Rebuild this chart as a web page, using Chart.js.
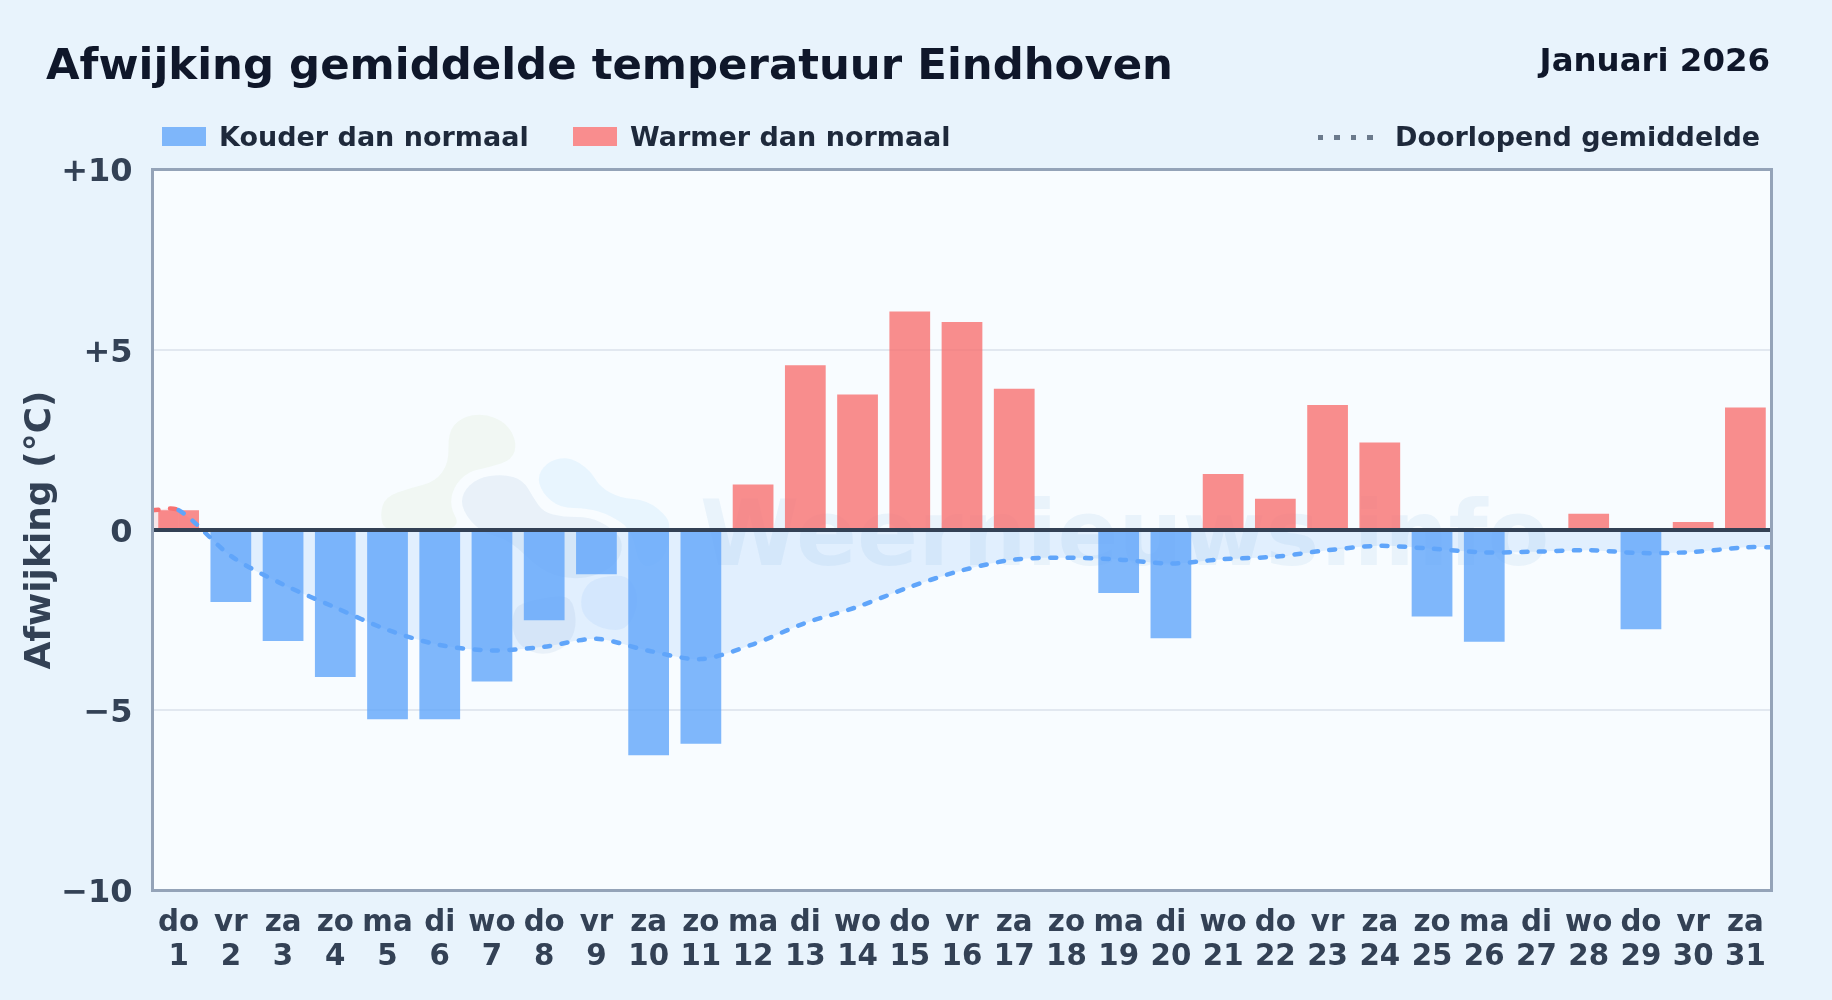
<!DOCTYPE html>
<html lang="nl">
<head>
<meta charset="utf-8">
<title>Afwijking gemiddelde temperatuur Eindhoven</title>
<script src="https://cdn.jsdelivr.net/npm/chart.js@4"></script>
<style>
    html, body { margin: 0; padding: 0; width: 1832px; height: 1000px; overflow: hidden; background: #e8f3fc; }
    body { position: relative; font-family: "DejaVu Sans", sans-serif; font-weight: bold; }
    canvas { position: absolute; left: 0; top: 0; }
    .txt { position: absolute; white-space: nowrap; line-height: 1; }
    #title { left: 46px; top: 43px; font-size: 43.4px; color: #0f172a; }
    #period { right: 62px; top: 44px; font-size: 32.4px; color: #0f172a; }
    .legend { top: 123px; font-size: 27px; color: #1e293b; }
    .swatch { position: absolute; top: 127px; width: 44px; height: 19px; }
    #dots { position: absolute; left: 1318px; top: 134.5px; width: 55px; height: 5px;
        background: repeating-linear-gradient(90deg, #6b7a8c 0, #6b7a8c 5.5px, transparent 5.5px, transparent 16.5px); }
</style>
</head>
<body>
<canvas id="chart" width="1832" height="1000"></canvas>
<div class="txt" id="title">Afwijking gemiddelde temperatuur Eindhoven</div>
<div class="txt" id="period">Januari 2026</div>
<div class="swatch" style="left:162px;background:#7eb6fa"></div>
<div class="txt legend" style="left:219px">Kouder dan normaal</div>
<div class="swatch" style="left:573px;background:#f98d8e"></div>
<div class="txt legend" style="left:630px">Warmer dan normaal</div>
<div id="dots"></div>
<div class="txt legend" style="left:1395px">Doorlopend gemiddelde</div>
<script>
const weekdays = ['do','vr','za','zo','ma','di','wo','do','vr','za','zo','ma','di','wo','do','vr','za','zo','ma','di','wo','do','vr','za','zo','ma','di','wo','do','vr','za'];
const days = [1,2,3,4,5,6,7,8,9,10,11,12,13,14,15,16,17,18,19,20,21,22,23,24,25,26,27,28,29,30,31];
const deviation = [0.55,-2.0,-3.08,-4.08,-5.25,-5.25,-4.2,-2.5,-1.23,-6.25,-5.93,1.26,4.57,3.76,6.06,5.77,3.92,0,-1.75,-3.0,1.55,0.87,3.47,2.43,-2.4,-3.1,0,0.45,-2.75,0.22,3.4];
const runningMean = [0.55,-0.72,-1.51,-2.15,-2.77,-3.19,-3.34,-3.24,-3.02,-3.35,-3.58,-3.17,-2.58,-2.13,-1.58,-1.12,-0.82,-0.77,-0.82,-0.93,-0.81,-0.74,-0.56,-0.44,-0.52,-0.62,-0.6,-0.56,-0.64,-0.61,-0.48];
const yTicks = { '10': '+10', '5': '+5', '0': '0', '-5': '\u22125', '-10': '\u221210' };

const BLUE = 'rgba(96, 165, 250, 0.8)';
const RED = 'rgba(248, 113, 113, 0.8)';

// faint logo behind the bars, outlines in page pixels
const logo = [
    { color: 'rgba(190, 220, 160, 0.13)', pts: [[380,515],[385,497],[410,488],[435,482],[449,463],[448,433],[460,418],[483,413],[507,423],[517,443],[512,460],[490,467],[467,472],[453,488],[450,507],[460,525],[440,532],[385,532]] },
    { color: 'rgba(130, 170, 210, 0.13)', pts: [[462,493],[477,478],[503,474],[523,480],[533,497],[543,512],[563,517],[590,517],[610,527],[623,540],[620,560],[600,575],[570,580],[540,570],[510,540],[480,532],[462,510]] },
    { color: 'rgba(120, 200, 250, 0.12)', pts: [[537,475],[550,460],[570,457],[590,470],[600,487],[620,498],[647,500],[668,517],[670,530],[665,560],[640,570],[632,530],[610,515],[587,508],[560,508],[542,493]] },
    { color: 'rgba(96, 165, 250, 0.1)', pts: [[580,597],[590,580],[613,575],[630,577],[640,600],[628,630],[603,630],[583,617]] },
    { color: 'rgba(110, 150, 200, 0.1)', pts: [[513,613],[520,603],[560,595],[573,600],[577,627],[567,647],[543,656],[520,647],[512,630]] }
];

function blobPath(ctx, pts) {
    // closed smooth outline through the midpoints
    const n = pts.length;
    ctx.beginPath();
    ctx.moveTo((pts[n-1][0] + pts[0][0]) / 2, (pts[n-1][1] + pts[0][1]) / 2);
    for (let i = 0; i < n; i++) {
        const next = pts[(i + 1) % n];
        ctx.quadraticCurveTo(pts[i][0], pts[i][1], (pts[i][0] + next[0]) / 2, (pts[i][1] + next[1]) / 2);
    }
    ctx.closePath();
}

const plotDecor = {
    id: 'plotDecor',
    beforeDraw(chart) {
        const a = chart.chartArea, ctx = chart.ctx;
        ctx.save();
        ctx.fillStyle = '#f8fcff';
        ctx.fillRect(a.left, a.top, a.width, a.height);
        ctx.restore();
    },
    beforeDatasetsDraw(chart) {
        const ctx = chart.ctx;
        ctx.save();
        logo.forEach(b => {
            blobPath(ctx, b.pts);
            ctx.fillStyle = b.color;
            ctx.fill();
        });
        ctx.font = 'bold 90px "DejaVu Sans"';
        ctx.fillStyle = 'rgba(90, 150, 215, 0.09)';
        ctx.textBaseline = 'alphabetic';
        ctx.fillText('Weernieuws.info', 700, 565);
        ctx.restore();
    },
    afterDatasetsDraw(chart) {
        const a = chart.chartArea, ctx = chart.ctx;
        const y0 = chart.scales.y.getPixelForValue(0);
        ctx.save();
        ctx.strokeStyle = '#334155';
        ctx.lineWidth = 4;
        ctx.beginPath();
        ctx.moveTo(a.left, y0);
        ctx.lineTo(a.right, y0);
        ctx.stroke();
        ctx.strokeStyle = '#94a3b8';
        ctx.lineWidth = 3;
        ctx.strokeRect(a.left, a.top, a.width, a.height);
        ctx.restore();
    }
};

// the line runs out to the plot edges, half a day past the first and last bar
const meanPoints = [{ x: 0.5, y: runningMean[0] }]
    .concat(runningMean.map((v, i) => ({ x: days[i], y: v })))
    .concat([{ x: 31.5, y: runningMean[30] }]);

new Chart(document.getElementById('chart'), {
    data: {
        labels: days.map((d, i) => [weekdays[i], String(d)]),
        datasets: [
            {
                type: 'line',
                label: 'Doorlopend gemiddelde',
                data: meanPoints,
                xAxisID: 'xLine',
                order: 0,
                borderWidth: 4.5,
                borderDash: [6, 11.5],
                borderCapStyle: 'round',
                tension: 0.3,
                pointRadius: 0,
                borderColor: '#60a5fa',
                segment: {
                    borderColor: c => c.p0DataIndex > 0 ? '#60a5fa' : '#f87171'
                },
                fill: { target: { value: 0 }, above: 'rgba(248, 113, 113, 0.15)', below: 'rgba(96, 165, 250, 0.15)' }
            },
            {
                type: 'bar',
                label: 'Afwijking',
                data: deviation,
                xAxisID: 'x',
                order: 1,
                grouped: false,
                barPercentage: 0.78,
                categoryPercentage: 1,
                backgroundColor: deviation.map(v => v < 0 ? BLUE : RED)
            }
        ]
    },
    options: {
        responsive: false,
        animation: false,
        layout: { padding: { top: 169.5, right: 60.5, left: 0, bottom: 0 } },
        plugins: {
            legend: { display: false },
            tooltip: { enabled: false },
            filler: { drawTime: 'beforeDatasetsDraw' }
        },
        scales: {
            x: {
                type: 'category',
                offset: true,
                grid: { display: false },
                border: { display: false },
                afterFit: s => { s.height = 109.5; },
                ticks: {
                    autoSkip: false,
                    maxRotation: 0,
                    padding: 7.5,
                    color: '#334155',
                    font: { family: '"DejaVu Sans"', weight: 'bold', size: 29.3, lineHeight: 1.17 }
                }
            },
            xLine: {
                type: 'linear',
                display: false,
                min: 0.5,
                max: 31.5
            },
            y: {
                min: -10,
                max: 10,
                afterFit: s => { s.width = 152.5; },
                border: { display: false },
                grid: {
                    drawTicks: false,
                    lineWidth: 2,
                    color: c => c.tick.value === 5 || c.tick.value === -5 ? '#e2e8f0' : 'transparent'
                },
                ticks: {
                    stepSize: 5,
                    padding: 20,
                    color: '#334155',
                    // empty first line and a tiny line height push the labels down a few pixels
                    font: { family: '"DejaVu Sans"', weight: 'bold', size: 32, lineHeight: '7px' },
                    callback: v => ['', yTicks[String(v)]]
                },
                title: {
                    display: true,
                    text: 'Afwijking (\u00b0C)',
                    color: '#334155',
                    padding: { top: 19, bottom: 0 },
                    font: { family: '"DejaVu Sans"', weight: 'bold', size: 36 }
                }
            }
        }
    },
    plugins: [plotDecor]
});
</script>
</body>
</html>
